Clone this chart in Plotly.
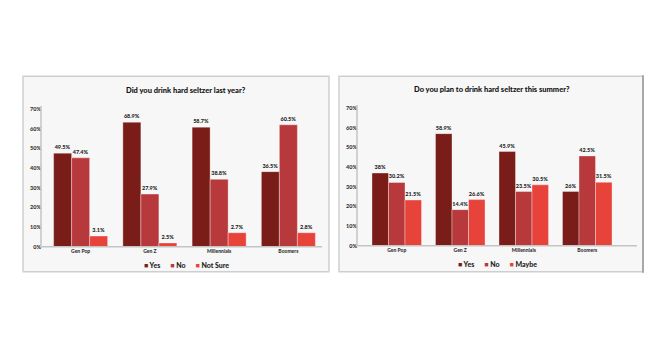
import plotly.graph_objects as go

W, H = 670, 350

categories = ["Gen Pop", "Gen Z", "Millennials", "Boomers"]
y_ticks = [0, 10, 20, 30, 40, 50, 60, 70]
y_tick_text = ["0%", "10%", "20%", "30%", "40%", "50%", "60%", "70%"]

# Left chart: "Did you drink hard seltzer last year?"
left_yes = [47.6, 63.3, 60.8, 38.2]
left_no = [45.2, 26.8, 34.3, 62.0]
left_notsure = [5.5, 2.0, 7.2, 7.2]
left_yes_lbl = ["49.5%", "68.9%", "58.7%", "36.5%"]
left_no_lbl = ["47.4%", "27.9%", "38.8%", "60.5%"]
left_notsure_lbl = ["3.1%", "2.5%", "2.7%", "2.8%"]

# Right chart: "Do you plan to drink hard seltzer this summer?"
right_yes = [37.0, 57.0, 47.9, 27.6]
right_no = [32.2, 18.4, 27.6, 45.7]
right_maybe = [23.3, 23.5, 31.0, 32.3]
right_yes_lbl = ["38%", "58.9%", "45.9%", "26%"]
right_no_lbl = ["30.2%", "14.4%", "23.5%", "42.5%"]
right_maybe_lbl = ["21.5%", "26.6%", "30.5%", "31.5%"]

C_YES = "#7a1c18"
C_NO = "#b8393b"
C_3 = "#e8433a"
FONT = "Lato"


def px(x):
    return x / W


def py(y):
    return 1 - y / H


fig = go.Figure()


def add_bar(xa, ya, vals, lbls, color, name):
    fig.add_trace(go.Bar(
        x=categories, y=vals, text=lbls, name=name,
        xaxis=xa, yaxis=ya,
        marker=dict(color=color, line=dict(color="rgba(255,255,255,0.35)", width=1)),
        textposition="outside", constraintext="none", cliponaxis=False,
        textfont=dict(family=FONT, size=5.5, color="#222", weight=900),
        showlegend=False,
    ))


add_bar("x", "y", left_yes, left_yes_lbl, C_YES, "Yes")
add_bar("x", "y", left_no, left_no_lbl, C_NO, "No")
add_bar("x", "y", left_notsure, left_notsure_lbl, C_3, "Not Sure")
add_bar("x2", "y2", right_yes, right_yes_lbl, C_YES, "Yes")
add_bar("x2", "y2", right_no, right_no_lbl, C_NO, "No")
add_bar("x2", "y2", right_maybe, right_maybe_lbl, C_3, "Maybe")

yaxis_common = dict(
    range=[0, 71.5], tickvals=y_ticks, ticktext=y_tick_text,
    showgrid=False, zeroline=False, showline=False,
    ticks="", tickfont=dict(family=FONT, size=5.5, color="#333", weight=900),
    anchor="free", fixedrange=True,
)
xaxis_common = dict(
    showgrid=False, zeroline=False, showline=False, ticks="",
    tickfont=dict(family=FONT, size=5, color="#333", weight=900),
)

fig.update_layout(
    width=W, height=H,
    margin=dict(l=0, r=0, t=0, b=0),
    paper_bgcolor="white", plot_bgcolor="rgba(0,0,0,0)",
    barmode="group", bargap=0.22, bargroupgap=0,
    xaxis=dict(domain=[px(46), px(323)], anchor="y", **xaxis_common),
    yaxis=dict(domain=[py(249), py(107)], position=px(41), **yaxis_common),
    xaxis2=dict(domain=[px(365), px(619)], anchor="y2", **xaxis_common),
    yaxis2=dict(domain=[py(248), py(106)], position=px(357), **yaxis_common),
)

AX = dict(color="#c4c4c4", width=1.5)
shapes = [
    dict(type="rect", xref="paper", yref="paper", x0=px(23), x1=px(329), y0=py(274), y1=py(77),
         fillcolor="#f7f7f7", line=dict(color="#cfcfcf", width=1.5), layer="below"),
    dict(type="rect", xref="paper", yref="paper", x0=px(339), x1=px(643), y0=py(274), y1=py(77),
         fillcolor="#f7f7f7", line=dict(color="#cfcfcf", width=1.5), layer="below"),
    dict(type="line", xref="paper", yref="paper", x0=px(643), x1=px(643), y0=py(275), y1=py(76),
         line=dict(color="#a8a8a8", width=2)),
    dict(type="line", xref="paper", yref="paper", x0=px(41), x1=px(322), y0=py(249), y1=py(249), line=AX),
    dict(type="line", xref="paper", yref="paper", x0=px(41), x1=px(41), y0=py(249), y1=py(107), line=AX),
    dict(type="line", xref="paper", yref="paper", x0=px(357), x1=px(637), y0=py(248), y1=py(248), line=AX),
    dict(type="line", xref="paper", yref="paper", x0=px(357), x1=px(357), y0=py(248), y1=py(106), line=AX),
]
fig.update_layout(shapes=shapes)


def legend_text(names, colors):
    parts = [f"<span style='color:{c}'>■</span> {n}" for n, c in zip(names, colors)]
    return "\u00a0\u00a0\u00a0\u00a0\u00a0\u00a0".join(parts)


annotations = [
    dict(text="Did you drink hard seltzer last year?", x=px(186), y=py(91), xref="paper", yref="paper",
         showarrow=False, xanchor="center", yanchor="middle",
         font=dict(family=FONT, size=7.5, color="#111", weight=900)),
    dict(text="Do you plan to drink hard seltzer this summer?", x=px(492), y=py(90), xref="paper", yref="paper",
         showarrow=False, xanchor="center", yanchor="middle",
         font=dict(family=FONT, size=7.5, color="#111", weight=900)),
    dict(text=legend_text(["Yes", "No", "Not Sure"], [C_YES, C_NO, C_3]), x=px(186), y=py(267),
         xref="paper", yref="paper", showarrow=False, xanchor="center", yanchor="middle",
         font=dict(family=FONT, size=7, color="#222", weight=900)),
    dict(text=legend_text(["Yes", "No", "Maybe"], [C_YES, C_NO, C_3]), x=px(497), y=py(266),
         xref="paper", yref="paper", showarrow=False, xanchor="center", yanchor="middle",
         font=dict(family=FONT, size=7, color="#222", weight=900)),
]
fig.update_layout(annotations=annotations)

fig.write_html("out.html")
